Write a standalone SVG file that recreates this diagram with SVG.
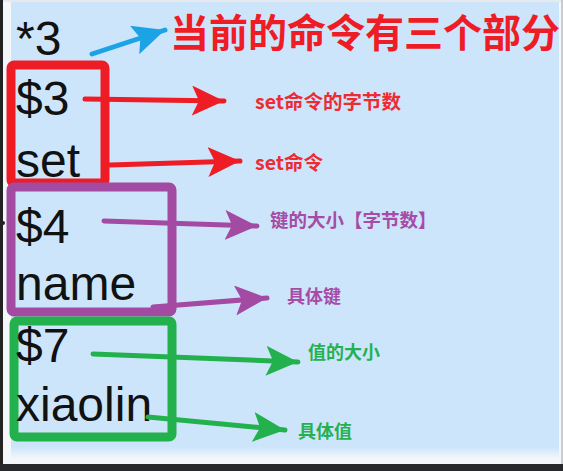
<svg xmlns="http://www.w3.org/2000/svg" width="563" height="471" viewBox="0 0 563 471">
<defs>
<style>
.code{font-family:"Liberation Sans",Arial,sans-serif;font-size:48px;fill:#111;}
.lbl{font-family:"Noto Sans CJK SC","Noto Sans",sans-serif;font-weight:bold;}
.box{fill:none;stroke-width:9;stroke-linejoin:round;}
.sh{fill:none;stroke-width:5;stroke-linecap:round;}
</style>
<linearGradient id="fade" x1="0" y1="0" x2="0" y2="1">
<stop offset="0" stop-color="#cde5fb"/>
<stop offset="1" stop-color="#f4f7fa"/>
</linearGradient>
<marker id="mr" markerUnits="userSpaceOnUse" markerWidth="32" markerHeight="30" refX="32" refY="15" orient="auto"><path d="M0,0 L32,15 L0,30 L7,15 Z" fill="#ee1c25"/></marker>
<marker id="mp" markerUnits="userSpaceOnUse" markerWidth="32" markerHeight="30" refX="32" refY="15" orient="auto"><path d="M0,0 L32,15 L0,30 L7,15 Z" fill="#a34aa3"/></marker>
<marker id="mg" markerUnits="userSpaceOnUse" markerWidth="32" markerHeight="30" refX="32" refY="15" orient="auto"><path d="M0,0 L32,15 L0,30 L7,15 Z" fill="#22b14c"/></marker>
<marker id="mb" markerUnits="userSpaceOnUse" markerWidth="32" markerHeight="30" refX="32" refY="15" orient="auto"><path d="M0,0 L32,15 L0,30 L6,15 Z" fill="#1ca3e6"/></marker>
</defs>
<rect x="0" y="0" width="563" height="471" fill="#f4f7fa"/>
<rect x="0" y="0" width="563" height="2" fill="#e6eaee"/>
<rect x="11" y="2" width="548" height="446" fill="#cde5fb"/>
<rect x="11" y="447" width="548" height="12" fill="url(#fade)"/>
<rect x="0" y="0" width="3" height="471" fill="#222"/>
<rect x="561" y="0" width="2" height="471" fill="#c9ccd0"/>
<rect x="0" y="464" width="563" height="7" fill="#26282b"/>
<circle cx="3" cy="223" r="2" fill="#222"/>

<g id="title">
<text class="lbl" x="170" y="47" font-size="39" fill="#ee1c25">当前的命令有三个部分</text>
</g>

<g id="star3"><text class="code" x="16" y="55">*3</text></g>

<g id="red-box">
<rect class="box" x="11" y="65" width="94" height="118" rx="3" stroke="#ee1c25"/>
<text class="code" x="16" y="115">$3</text>
<text class="code" x="16" y="177">set</text>
</g>

<g id="purple-box">
<rect class="box" x="11" y="187" width="161" height="125" rx="3" stroke="#a34aa3"/>
<text class="code" x="16" y="243">$4</text>
<text class="code" x="16" y="300">name</text>
</g>

<g id="green-box">
<rect class="box" x="14" y="321" width="158" height="116" rx="3" stroke="#22b14c"/>
<text class="code" x="16" y="362">$7</text>
<text class="code" x="16" y="421">xiaolin</text>
</g>

<g id="connectors">
<line class="sh" x1="92" y1="54" x2="165" y2="30" stroke="#1ca3e6" stroke-width="4" marker-end="url(#mb)"/>
<line class="sh" x1="85" y1="99" x2="224" y2="101" stroke="#ee1c25" marker-end="url(#mr)"/>
<line class="sh" x1="110" y1="165" x2="240" y2="161" stroke="#ee1c25" marker-end="url(#mr)"/>
<line class="sh" x1="104" y1="221" x2="257" y2="226" stroke="#a34aa3" marker-end="url(#mp)"/>
<line class="sh" x1="153" y1="307" x2="267" y2="298" stroke="#a34aa3" marker-end="url(#mp)"/>
<line class="sh" x1="93" y1="354" x2="298" y2="362" stroke="#22b14c" marker-end="url(#mg)"/>
<line class="sh" x1="148" y1="417" x2="285" y2="430" stroke="#22b14c" marker-end="url(#mg)"/>
</g>

<g id="labels">
<text class="lbl" x="255" y="109" font-size="19.5" fill="#ee2a33">set命令的字节数</text>
<text class="lbl" x="255" y="170" font-size="19.5" fill="#ee2a33">set命令</text>
<text class="lbl" x="270" y="227" font-size="18.5" fill="#a64ca6">键的大小【字节数】</text>
<text class="lbl" x="287" y="303" font-size="18" fill="#a64ca6">具体键</text>
<text class="lbl" x="308" y="359" font-size="18" fill="#26b150">值的大小</text>
<text class="lbl" x="298" y="438" font-size="18" fill="#26b150">具体值</text>
</g>
</svg>
